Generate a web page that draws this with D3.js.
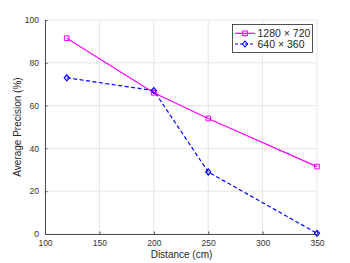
<!DOCTYPE html>
<html><head><meta charset="utf-8">
<script src="https://cdn.jsdelivr.net/npm/d3@7"></script>
<style>body{margin:0;background:#fff}svg{display:block}text{font-family:"Liberation Sans",Arial,sans-serif}</style>
</head><body><svg id="c" width="350" height="263"></svg>
<script>
const distances = [120, 200, 250, 350];
const hiRes = [91.5, 66, 54, 31.5];
const loRes = [73, 67, 29, 0.3];
const seriesNames = ["1280 \u00d7 720", "640 \u00d7 360"];
const xTicks = [100, 150, 200, 250, 300, 350];
const yTicks = [0, 20, 40, 60, 80, 100];

const svg = d3.select("#c");
const L = 45, R = 317, T = 20, B = 234;
const x = d3.scaleLinear().domain([100, 350]).range([L, R]);
const y = d3.scaleLinear().domain([0, 100]).range([B, T]);

// grid
svg.append("g").selectAll("line").data(xTicks).join("line")
  .attr("x1", d => x(d)).attr("x2", d => x(d)).attr("y1", T).attr("y2", B)
  .attr("stroke", "#e6e6e6").attr("stroke-width", 1);
svg.append("g").selectAll("line").data(yTicks).join("line")
  .attr("x1", L).attr("x2", R).attr("y1", d => y(d)).attr("y2", d => y(d))
  .attr("stroke", "#e6e6e6").attr("stroke-width", 1);

// axes
const xa = svg.append("g").attr("transform", `translate(0,${B})`)
  .call(d3.axisBottom(x).tickValues(xTicks).tickSizeInner(-2.5).tickSizeOuter(0).tickPadding(6));
const ya = svg.append("g").attr("transform", `translate(${L},0)`)
  .call(d3.axisLeft(y).tickValues(yTicks).tickSizeInner(-2.5).tickSizeOuter(0).tickPadding(6));
[xa, ya].forEach(a => {
  a.select(".domain").attr("stroke", "#4d4d4d");
  a.selectAll(".tick line").attr("stroke", "#4d4d4d");
  a.selectAll("text").attr("fill", "#333").style("font-size", "8.5px").style("font-family", "Liberation Sans, Arial, sans-serif");
});

svg.append("text").attr("x", 181.5).attr("y", 258).attr("text-anchor", "middle")
  .attr("fill", "#262626").style("font-size", "10px").text("Distance (cm)");
svg.append("text").attr("transform", `translate(21,${(T + B) / 2}) rotate(-90)`).attr("text-anchor", "middle")
  .attr("fill", "#262626").style("font-size", "10px").text("Average Precision (%)");

const line = d3.line().x(d => x(d[0])).y(d => y(d[1]));
const hiPts = distances.map((d, i) => [d, hiRes[i]]);
const loPts = distances.map((d, i) => [d, loRes[i]]);

svg.append("path").datum(hiPts).attr("d", line).attr("fill", "none").attr("stroke", "#ff00ff").attr("stroke-width", 1.2);
svg.append("path").datum(loPts).attr("d", line).attr("fill", "none").attr("stroke", "#0000ff").attr("stroke-width", 1.2).attr("stroke-dasharray", "4,2.5");

const sq = d3.symbol().type(d3.symbolSquare).size(22);
const dia = "M0,-3L2.5,0L0,3L-2.5,0Z";
svg.append("g").selectAll("path").data(hiPts).join("path")
  .attr("transform", d => `translate(${x(d[0])},${y(d[1])})`).attr("d", sq)
  .attr("fill", "none").attr("stroke", "#ff00ff").attr("stroke-width", 1);
svg.append("g").selectAll("path").data(loPts).join("path")
  .attr("transform", d => `translate(${x(d[0])},${y(d[1])})`).attr("d", dia)
  .attr("fill", "none").attr("stroke", "#0000ff").attr("stroke-width", 1.2);

// legend
const lg = svg.append("g");
lg.append("rect").attr("x", 232.5).attr("y", 24.5).attr("width", 80).attr("height", 28)
  .attr("fill", "#fff").attr("stroke", "#262626").attr("stroke-width", 0.8);
const colors = ["#ff00ff", "#0000ff"];
const dashes = [null, "3,2"];
const syms = [sq(), dia];
seriesNames.forEach((n, i) => {
  const yy = 33.3 + i * 10.7;
  lg.append("line").attr("x1", 235).attr("x2", 255).attr("y1", yy).attr("y2", yy)
    .attr("stroke", colors[i]).attr("stroke-width", 1.2).attr("stroke-dasharray", dashes[i]);
  lg.append("path").attr("transform", `translate(245,${yy})`).attr("d", syms[i])
    .attr("fill", "none").attr("stroke", colors[i]).attr("stroke-width", 1.1);
  lg.append("text").attr("x", 257.5).attr("y", yy + 3.7).attr("fill", "#262626")
    .style("font-size", "10.5px").text(n);
});
</script></body></html>
